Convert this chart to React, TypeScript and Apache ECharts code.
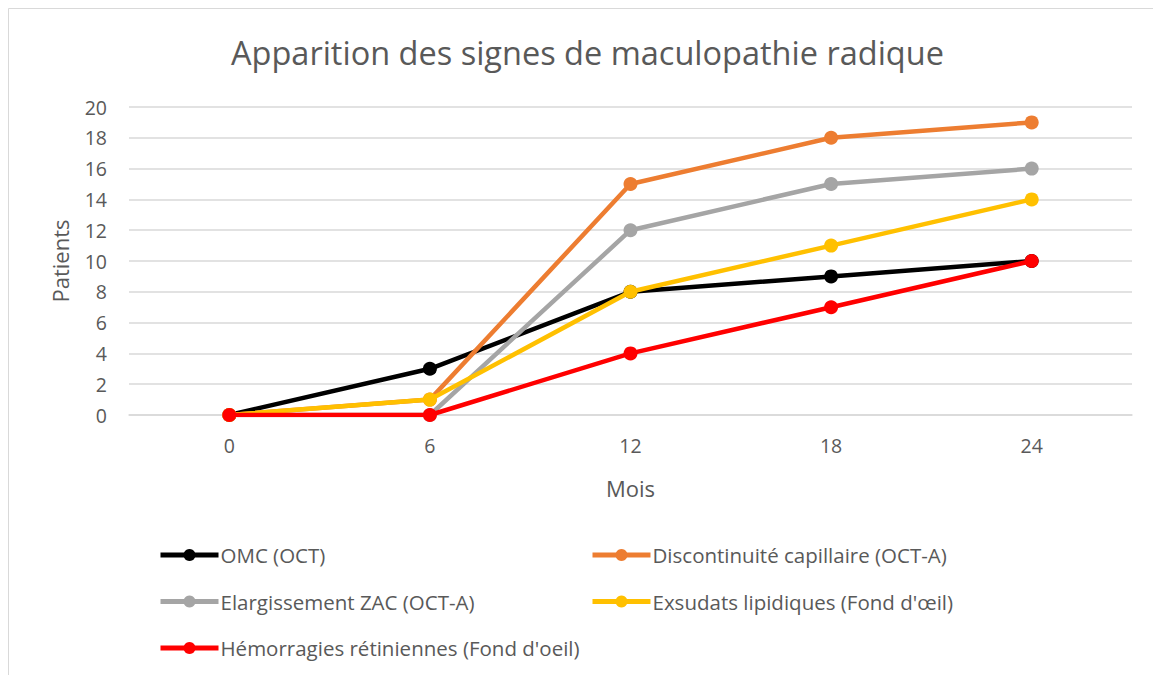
import React, { useEffect, useRef } from "react";
import * as echarts from "echarts";

const months = ["0", "6", "12", "18", "24"];
const omc = [0, 3, 8, 9, 10];
const discontinuite = [0, 1, 15, 18, 19];
const elargissement = [0, 0, 12, 15, 16];
const exsudats = [0, 1, 8, 11, 14];
const hemorragies = [0, 0, 4, 7, 10];

const names = [
  "OMC (OCT)",
  "Discontinuité capillaire (OCT-A)",
  "Elargissement ZAC (OCT-A)",
  "Exsudats lipidiques (Fond d'œil)",
  "Hémorragies rétiniennes (Fond d'oeil)",
];
const colors = ["#000000", "#ED7D31", "#A5A5A5", "#FFC000", "#FF0000"];
const seriesData = [omc, discontinuite, elargissement, exsudats, hemorragies];

const FONT = "'Open Sans', 'Liberation Sans', sans-serif";

export default function App() {
  const ref = useRef<HTMLDivElement>(null);
  useEffect(() => {
    if (!ref.current) return;
    const chart = echarts.init(ref.current, null, { renderer: "svg" });
    const legendCommon = {
      orient: "vertical" as const,
      padding: 0,
      itemWidth: 58,
      itemHeight: 15,
      itemGap: 22.5,
      lineStyle: { width: 5 },
      textStyle: {
        color: "#595959",
        fontSize: 20.5,
        lineHeight: 24,
        fontFamily: FONT,
        padding: [0, 0, 0, -3],
      },
    };
    chart.setOption({
      animation: false,
      backgroundColor: "#fff",
      title: {
        text: "Apparition des signes de maculopathie radique",
        left: 226,
        top: 31,
        textStyle: { color: "#595959", fontSize: 32.5, fontWeight: "normal", fontFamily: FONT },
      },
      grid: { left: 129, right: 21, top: 107, bottom: 675 - 415 },
      xAxis: {
        type: "category",
        data: months,
        boundaryGap: true,
        name: "Mois",
        nameLocation: "middle",
        nameGap: 62,
        nameTextStyle: { color: "#595959", fontSize: 22, fontFamily: FONT },
        axisLine: { show: true, lineStyle: { color: "#D9D9D9", width: 1.5 } },
        axisTick: { show: false },
        axisLabel: { color: "#595959", fontSize: 19.5, fontFamily: FONT, margin: 20 },
      },
      yAxis: {
        type: "value",
        min: 0,
        max: 20,
        interval: 2,
        name: "Patients",
        nameLocation: "middle",
        nameGap: 58,
        nameTextStyle: { color: "#595959", fontSize: 22, fontFamily: FONT },
        axisLine: { show: false },
        axisTick: { show: false },
        axisLabel: { color: "#595959", fontSize: 19.5, fontFamily: FONT, margin: 22 },
        splitLine: { lineStyle: { color: "#D9D9D9", width: 1.5 } },
      },
      legend: [
        { ...legendCommon, left: 158, top: 543, data: [names[0], names[2], names[4]] },
        { ...legendCommon, left: 590, top: 543, data: [names[1], names[3]] },
      ],
      graphic: [
        {
          type: "rect",
          shape: { x: 8.5, y: 8.5, width: 1200, height: 800 },
          style: { fill: "none", stroke: "#D9D9D9", lineWidth: 1 },
          silent: true,
        },
      ],
      series: seriesData.map((d, i) => ({
        name: names[i],
        type: "line",
        data: d,
        symbol: "circle",
        symbolSize: 14,
        lineStyle: { width: 4.5, color: colors[i] },
        itemStyle: { color: colors[i] },
        z: [2, 3, 4, 5, 6][i],
      })),
    });
    return () => chart.dispose();
  }, []);
  return (
    <div
      ref={ref}
      style={{ position: "fixed", left: 0, top: 0, width: 1153, height: 675 }}
    />
  );
}
